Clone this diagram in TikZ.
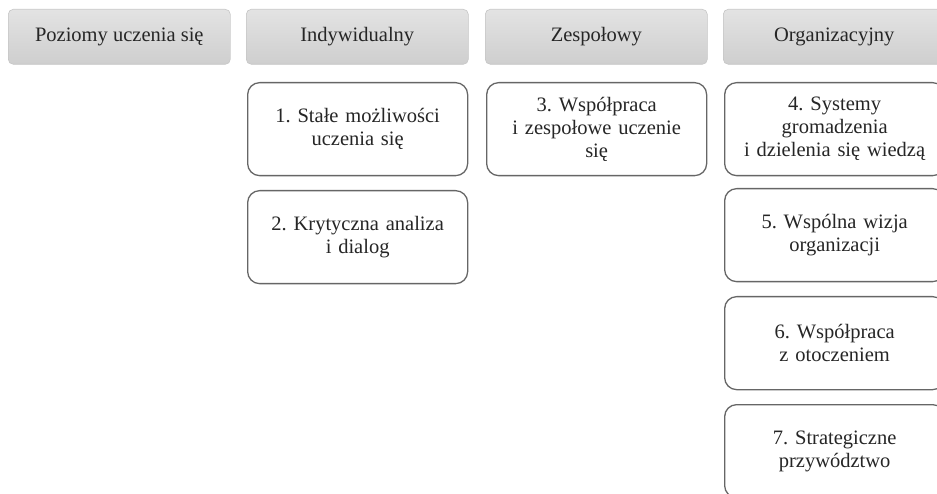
\documentclass[tikz,border=0pt]{standalone}
\usepackage{fontspec}
\setmainfont{Liberation Serif}
\begin{document}
\frenchspacing
\begin{tikzpicture}[x=1pt,y=-1pt,
  hdr/.style={draw=gray!45, line width=0.6pt, rounded corners=5pt, top color=gray!22, bottom color=gray!38,
    minimum width=222pt, minimum height=55pt, anchor=north west, inner sep=0pt,
    font=\fontsize{20.5}{23}\selectfont, text=black!85},
  item/.style={draw=black!60, line width=1.3pt, rounded corners=12pt, fill=white,
    minimum width=220pt, minimum height=93pt, anchor=north west, inner sep=2pt,
    align=center, text width=216pt, font=\fontsize{20.5}{23}\selectfont, text=black!85}]
\useasboundingbox (0,0) rectangle (937,494);
\node[hdr] (h0) at (8,9) {Poziomy uczenia się};
\node[hdr] (h1) at (246,9) {Indywidualny};
\node[hdr] (h2) at (485,9) {Zespołowy};
\node[hdr] (h3) at (723,9) {Organizacyjny};
\node[item] (b1) at (247,82) {1. Stałe możliwości\\uczenia się};
\node[item] (b2) at (247,190) {2. Krytyczna analiza\\i dialog};
\node[item] (b3) at (486,82) {3. Współpraca\\i zespołowe uczenie\\się};
\node[item] (b4) at (724,82) {4. Systemy\\gromadzenia\\i dzielenia się wiedzą};
\node[item] (b5) at (724,188) {5. Wspólna wizja\\organizacji};
\node[item] (b6) at (724,296) {6. Współpraca\\z otoczeniem};
\node[item] (b7) at (724,404) {7. Strategiczne\\przywództwo};
\end{tikzpicture}
\end{document}
